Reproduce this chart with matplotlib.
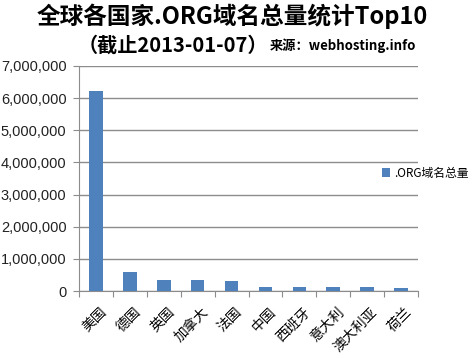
import matplotlib.pyplot as plt
from matplotlib.ticker import FuncFormatter

plt.rcParams['font.family'] = ['Noto Sans CJK SC', 'DejaVu Sans']

# 数据
countries = ['美国', '德国', '英国', '加拿大', '法国', '中国', '西班牙', '意大利', '澳大利亚', '荷兰']
org_counts = [6230000, 590000, 345000, 340000, 310000, 140000, 135000, 132000, 110000, 95000]

fig = plt.figure(figsize=(4.74, 3.59), dpi=100)
ax = fig.add_axes([0.1667, 0.1894, 0.7152, 0.6268])

x = list(range(len(countries)))
ax.bar(x, org_counts, width=0.4, color='#4F81BD', label='.ORG域名总量', zorder=3)

ax.set_xlim(-0.5, len(countries) - 0.5)
ax.set_ylim(0, 7000000)
ax.set_yticks(range(0, 7000001, 1000000))
ax.yaxis.set_major_formatter(FuncFormatter(lambda v, p: f'{int(v):,}'))
ax.grid(axis='y', color='#8c8c8c', linewidth=1, zorder=0)

# 类别边界刻度
ax.set_xticks([i - 0.5 for i in range(len(countries) + 1)], minor=False)
ax.set_xticklabels([])
ax.set_xticks([i + 0.1 for i in x], minor=True)
ax.set_xticklabels(countries, minor=True, rotation=45, ha='right', rotation_mode='anchor',
                   fontsize=10)
ax.tick_params(axis='x', which='minor', length=0, pad=10)
ax.tick_params(axis='x', which='major', length=4, color='#8c8c8c')
ax.tick_params(axis='y', length=4, color='#8c8c8c', labelsize=10.5, labelcolor='#222222', pad=5)
for t in ax.get_yticklabels():
    t.set_family(['Liberation Sans', 'DejaVu Sans'])

for s in ['top', 'right']:
    ax.spines[s].set_visible(False)
for s in ['left', 'bottom']:
    ax.spines[s].set_color('#8c8c8c')

ax.legend(loc='center left', bbox_to_anchor=(0.88, 0.524), frameon=False, fontsize=8.5,
          handlelength=0.7, handleheight=0.7, handletextpad=0.3, borderaxespad=0)

fig.text(0.49, 0.955, '全球各国家.ORG域名总量统计Top10', ha='center', va='center',
         fontsize=17, fontweight='bold')
fig.text(0.163, 0.875, '（截止2013-01-07）', ha='left', va='center',
         fontsize=14.5, fontweight='bold')
fig.text(0.57, 0.872, '来源：webhosting.info', ha='left', va='center',
         fontsize=9.5, fontweight='bold')

plt.savefig('out.png', dpi=100)
